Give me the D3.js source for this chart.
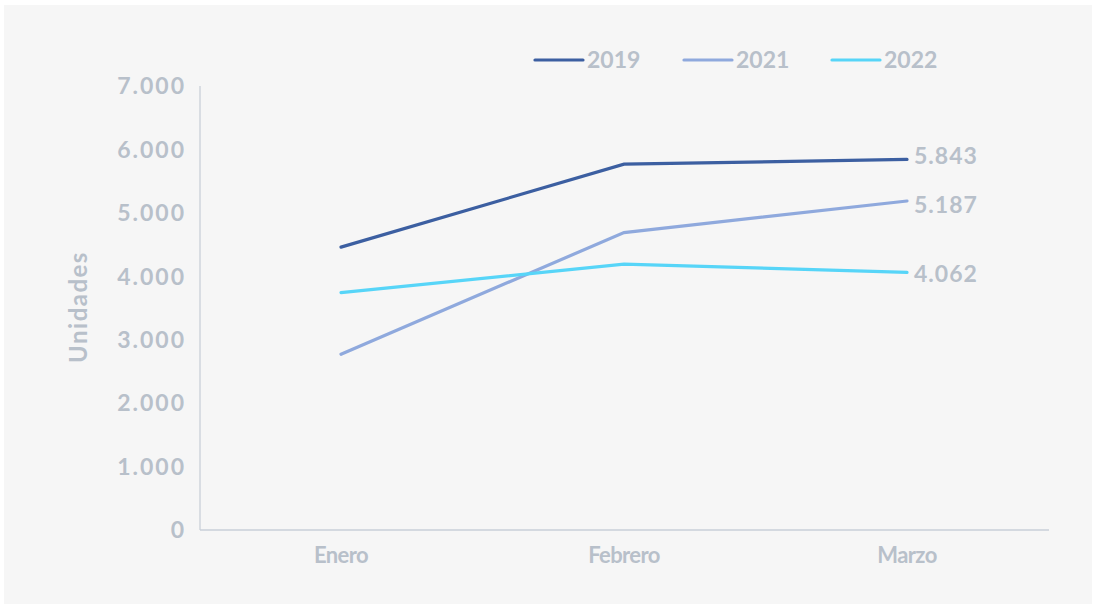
<!DOCTYPE html>
<html><head><meta charset="utf-8">
<script src="https://cdn.jsdelivr.net/npm/d3@7"></script>
<style>body{margin:0;background:#fff;}svg{display:block;font-family:Lato,"Open Sans",sans-serif;}</style>
</head><body><svg id="c" width="1096" height="609"></svg>
<script>
const categories = ["Enero","Febrero","Marzo"];
const seriesNames = ["2019","2021","2022"];
const values2019 = [4460, 5768, 5843];
const values2021 = [2771, 4689, 5187];
const values2022 = [3743, 4191, 4062];
const yTicks = [0,1000,2000,3000,4000,5000,6000,7000];
const colors = ["#3c5fa1","#8fa9dd","#57d5f8"];
const seriesValues = [values2019, values2021, values2022];

const svg = d3.select("#c");
const txt = "#b8c0ca";
svg.append("rect").attr("x",4).attr("y",5).attr("width",1088).attr("height",599).attr("fill","#f6f6f6");

const x = d3.scalePoint().domain(categories).range([341,907]);
const y = d3.scaleLinear().domain([0,7000]).range([530,86]);
const fmt = v => d3.format(",")(v).replace(/,/g,".");

// axes
svg.append("line").attr("x1",200).attr("x2",200).attr("y1",y(7000)).attr("y2",y(0)).attr("stroke","#c9cfd8").attr("stroke-width",1.3);
svg.append("line").attr("x1",200).attr("x2",1049).attr("y1",y(0)).attr("y2",y(0)).attr("stroke","#c9cfd8").attr("stroke-width",1.3);

svg.selectAll(".yt").data(yTicks).enter().append("text")
  .attr("x",186).attr("y",d=>y(d)).attr("dy","0.36em").attr("text-anchor","end")
  .attr("fill",txt).attr("font-size",23).attr("font-weight",700).attr("letter-spacing",2).text(fmt);

svg.selectAll(".xt").data(categories).enter().append("text")
  .attr("x",d=>x(d)).attr("y",563).attr("text-anchor","middle")
  .attr("fill",txt).attr("font-size",22).attr("font-weight",700).attr("letter-spacing",-0.6).text(d=>d);

svg.append("text").attr("transform","translate(87,307) rotate(-90)").attr("text-anchor","middle")
  .attr("fill",txt).attr("font-size",24).attr("font-weight",700).attr("letter-spacing",1.5).text("Unidades");

const labelShift = [-4, 4, 1];
const line = d3.line().x((d,i)=>x(categories[i])).y(d=>y(d));
seriesValues.forEach((vals,k)=>{
  svg.append("path").datum(vals).attr("d",line).attr("fill","none")
    .attr("stroke",colors[k]).attr("stroke-width",3.2).attr("stroke-linecap","round");
  const last = vals[vals.length-1];
  svg.append("text").attr("x",x(categories[2])+7).attr("y",y(last)+labelShift[k]).attr("dy","0.36em")
    .attr("fill",txt).attr("font-size",23).attr("font-weight",700).attr("letter-spacing",1).text(fmt(last));
});

// legend
const legX = [535,684,832];
seriesNames.forEach((n,k)=>{
  svg.append("line").attr("x1",legX[k]).attr("x2",legX[k]+48).attr("y1",60).attr("y2",60)
    .attr("stroke",colors[k]).attr("stroke-width",3.2).attr("stroke-linecap","round");
  svg.append("text").attr("x",legX[k]+52).attr("y",60).attr("dy","0.36em")
    .attr("fill",txt).attr("font-size",23).attr("font-weight",700).text(n);
});
</script></body></html>
